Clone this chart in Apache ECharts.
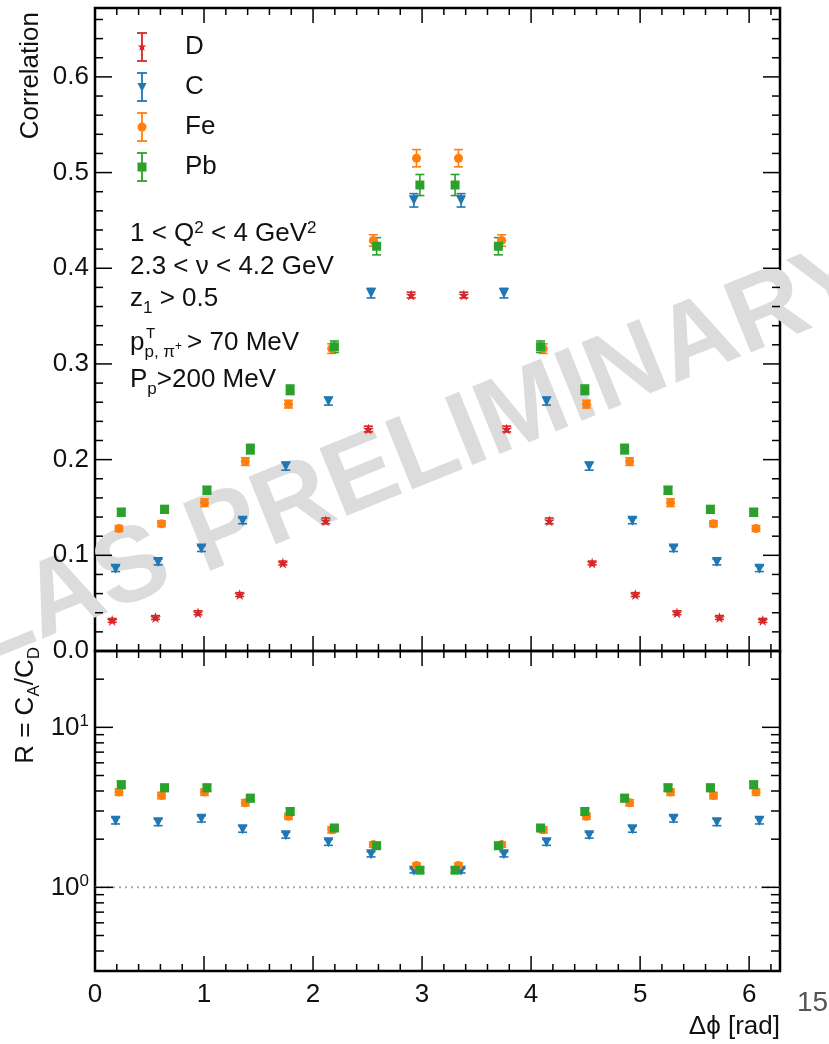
<!DOCTYPE html>
<html>
<head>
<meta charset="utf-8">
<script src="https://cdn.jsdelivr.net/npm/echarts@6/dist/echarts.min.js"></script>
<style>
html,body{margin:0;padding:0;background:#fff;}
#c{width:829px;height:1044px;}
</style>
</head>
<body>
<div id="c"></div>
<script>
// ---------------- data ----------------
const seriesNames = ['D', 'C', 'Fe', 'Pb'];
const phiD  = [0.158,0.555,0.945,1.327,1.723,2.116,2.507,2.900,3.383,3.776,4.167,4.560,4.956,5.338,5.728,6.125];
const phiC  = [0.189,0.579,0.976,1.354,1.750,2.141,2.532,2.925,3.358,3.751,4.142,4.533,4.929,5.307,5.704,6.094];
const phiFe = [0.220,0.610,1.004,1.379,1.775,2.171,2.553,2.949,3.334,3.730,4.112,4.508,4.904,5.279,5.673,6.063];
const phiPb = [0.241,0.638,1.027,1.425,1.790,2.196,2.583,2.980,3.303,3.700,4.087,4.493,4.858,5.256,5.645,6.042];

const corrD  = [0.032,0.035,0.040,0.059,0.092,0.136,0.232,0.372,0.372,0.232,0.136,0.092,0.059,0.040,0.035,0.032];
const corrC  = [0.086,0.093,0.107,0.136,0.193,0.261,0.374,0.471,0.471,0.374,0.261,0.193,0.136,0.107,0.093,0.086];
const corrFe = [0.128,0.133,0.155,0.198,0.258,0.316,0.429,0.515,0.515,0.429,0.316,0.258,0.198,0.155,0.133,0.128];
const corrPb = [0.145,0.148,0.168,0.211,0.273,0.318,0.423,0.487,0.487,0.423,0.318,0.273,0.211,0.168,0.148,0.145];

const errD  = [0.002,0.002,0.002,0.002,0.002,0.003,0.003,0.003,0.003,0.003,0.003,0.002,0.002,0.002,0.002,0.002];
const errC  = [0.003,0.003,0.003,0.003,0.004,0.004,0.005,0.007,0.007,0.005,0.004,0.004,0.003,0.003,0.003,0.003];
const errFe = [0.003,0.003,0.004,0.004,0.004,0.005,0.006,0.009,0.009,0.006,0.005,0.004,0.004,0.004,0.003,0.003];
const errPb = [0.004,0.004,0.004,0.005,0.005,0.006,0.009,0.011,0.011,0.009,0.006,0.005,0.005,0.004,0.004,0.004];

const ratioC  = [2.61,2.55,2.68,2.31,2.12,1.91,1.61,1.27,1.27,1.61,1.91,2.12,2.31,2.68,2.55,2.61];
const ratioFe = [3.94,3.75,3.94,3.38,2.78,2.29,1.85,1.37,1.37,1.85,2.29,2.78,3.38,3.94,3.75,3.94];
const ratioPb = [4.38,4.19,4.19,3.61,2.98,2.35,1.82,1.28,1.28,1.82,2.35,2.98,3.61,4.19,4.19,4.38];

const ratioErrC  = [0.12,0.12,0.12,0.10,0.09,0.08,0.06,0.04,0.04,0.06,0.08,0.09,0.10,0.12,0.12,0.12];
const ratioErrFe = [0.18,0.17,0.18,0.15,0.12,0.10,0.07,0.05,0.05,0.07,0.10,0.12,0.15,0.18,0.17,0.18];
const ratioErrPb = [0.22,0.21,0.21,0.18,0.14,0.11,0.08,0.05,0.05,0.08,0.11,0.14,0.18,0.21,0.21,0.22];

const referenceRatio = 1;

// ticks
const xMajorTicks = [0, 1, 2, 3, 4, 5, 6];
const xMinorTicks = [];
for (let i = 1; i <= 31; i++) { if (i % 5 !== 0) xMinorTicks.push(+(i * 0.2).toFixed(1)); }
const yTopMajorTicks = [0, 0.1, 0.2, 0.3, 0.4, 0.5, 0.6];
const yTopMinorTicks = [];
for (let i = 1; i <= 33; i++) { if (i % 5 !== 0) yTopMinorTicks.push(+(i * 0.02).toFixed(2)); }
const yBotMajorTicks = [1, 10];
const yBotMinorTicks = [0.4,0.5,0.6,0.7,0.8,0.9,2,3,4,5,6,7,8,9,20];

const annotationLines = [
  '1 < Q{sup|2} < 4 GeV{sup|2}',
  '2.3 < ν < 4.2 GeV',
  'z{sub|1} > 0.5',
  'p{sub|p, π}{ssup|+}{gap| }> 70 MeV',
  'P{sub|p}>200 MeV'
];

// ---------------- style ----------------
const FONT = "'Liberation Sans', Arial, Helvetica, sans-serif";
const colors = { D: '#d62728', C: '#1f77b4', Fe: '#ff7f0e', Pb: '#2ca02c' };
const STAR = 'path://M50,0 L61,35 L98,35 L68,57 L79,91 L50,70 L21,91 L32,57 L2,35 L39,35 Z';
const symbols = { D: STAR, C: 'triangle', Fe: 'circle', Pb: 'rect' };
const symSize = { D: 11, C: 10, Fe: 9, Pb: 9 };
const symRot = { D: 0, C: 180, Fe: 0, Pb: 0 };

const chart = echarts.init(document.getElementById('c'), null, { renderer: 'canvas' });

function errSeries(color, xs, ys, es, xi, yi) {
  return {
    type: 'custom', xAxisIndex: xi, yAxisIndex: yi, z: 3, silent: true,
    data: xs.map((x, i) => [x, ys[i], es[i]]),
    renderItem(params, api) {
      const x = api.value(0), y = api.value(1), e = api.value(2);
      const hi = api.coord([x, y + e]), lo = api.coord([x, y - e]);
      const w = 4.5, st = { stroke: color, lineWidth: 1.6 };
      return { type: 'group', children: [
        { type: 'line', shape: { x1: hi[0], y1: hi[1], x2: lo[0], y2: lo[1] }, style: st },
        { type: 'line', shape: { x1: hi[0] - w, y1: hi[1], x2: hi[0] + w, y2: hi[1] }, style: st },
        { type: 'line', shape: { x1: lo[0] - w, y1: lo[1], x2: lo[0] + w, y2: lo[1] }, style: st }
      ]};
    }
  };
}

function pointSeries(name, xs, ys, xi, yi) {
  return {
    name, type: 'scatter', xAxisIndex: xi, yAxisIndex: yi, z: 4, silent: true,
    symbol: symbols[name], symbolSize: symSize[name], symbolRotate: symRot[name],
    itemStyle: { color: colors[name], opacity: 1 },
    data: xs.map((x, i) => [x, ys[i]])
  };
}

function tickSeries(xi, yi, yMaj, yMin, yRef, lens) {
  return {
    type: 'custom', xAxisIndex: xi, yAxisIndex: yi, z: 20, silent: true,
    data: [[1, yRef]],
    renderItem(params, api) {
      const cs = params.coordSys;
      const L = cs.x, R = cs.x + cs.width, T = cs.y, B = cs.y + cs.height;
      const ch = [];
      const st = { stroke: '#000', lineWidth: 1.5 };
      const add = (x1, y1, x2, y2) => ch.push({ type: 'line', shape: { x1, y1, x2, y2 }, style: st });
      xMajorTicks.forEach(v => { const p = api.coord([v, yRef])[0]; add(p, B, p, B - lens.xMaj); add(p, T, p, T + lens.xMaj); });
      xMinorTicks.forEach(v => { const p = api.coord([v, yRef])[0]; add(p, B, p, B - lens.xMin); add(p, T, p, T + lens.xMin); });
      yMaj.forEach(v => { const p = api.coord([1, v])[1]; add(L, p, L + lens.yMaj, p); add(R, p, R - lens.yMaj, p); });
      yMin.forEach(v => { const p = api.coord([1, v])[1]; add(L, p, L + lens.yMin, p); add(R, p, R - lens.yMin, p); });
      return { type: 'group', children: ch };
    }
  };
}

const xs = { D: phiD, C: phiC, Fe: phiFe, Pb: phiPb };
const topVals = { D: corrD, C: corrC, Fe: corrFe, Pb: corrPb };
const topErrs = { D: errD, C: errC, Fe: errFe, Pb: errPb };
const botVals = { C: ratioC, Fe: ratioFe, Pb: ratioPb };
const botErrs = { C: ratioErrC, Fe: ratioErrFe, Pb: ratioErrPb };

const series = [];
seriesNames.forEach(n => {
  series.push(errSeries(colors[n], xs[n], topVals[n], topErrs[n], 0, 0));
  series.push(pointSeries(n, xs[n], topVals[n], 0, 0));
});
['C', 'Fe', 'Pb'].forEach(n => {
  series.push(errSeries(colors[n], xs[n], botVals[n], botErrs[n], 1, 1));
  series.push(pointSeries(n, xs[n], botVals[n], 1, 1));
});
series.push({
  type: 'line', xAxisIndex: 1, yAxisIndex: 1, z: 2, silent: true, symbol: 'none',
  lineStyle: { color: '#aaaaaa', width: 2, type: [2, 4] },
  data: [[0, referenceRatio], [2 * Math.PI, referenceRatio]]
});
series.push(tickSeries(0, 0, yTopMajorTicks, yTopMinorTicks, 0.1, { xMaj: 15, xMin: 7, yMaj: 17, yMin: 8 }));
series.push(tickSeries(1, 1, yBotMajorTicks, yBotMinorTicks, 1, { xMaj: 15, xMin: 7, yMaj: 18, yMin: 9 }));

// legend graphics
const legendRows = [47, 87, 127, 167];
const legendX = 142;
const graphics = [];
function starPoints(cx, cy, ro, ri) {
  const pts = [];
  for (let k = 0; k < 10; k++) {
    const a = -Math.PI / 2 + k * Math.PI / 5, r = k % 2 ? ri : ro;
    pts.push([cx + r * Math.cos(a), cy + r * Math.sin(a)]);
  }
  return pts;
}
seriesNames.forEach((n, i) => {
  const y = legendRows[i], c = colors[n];
  const st = { stroke: c, lineWidth: 1.8 };
  graphics.push({ type: 'line', z: 50, shape: { x1: legendX, y1: y - 14, x2: legendX, y2: y + 14 }, style: st });
  graphics.push({ type: 'line', z: 50, shape: { x1: legendX - 5, y1: y - 14, x2: legendX + 5, y2: y - 14 }, style: st });
  graphics.push({ type: 'line', z: 50, shape: { x1: legendX - 5, y1: y + 14, x2: legendX + 5, y2: y + 14 }, style: st });
  let m;
  if (n === 'D') m = { type: 'polygon', shape: { points: starPoints(legendX, y, 4.5, 2) }, style: { fill: c } };
  if (n === 'C') m = { type: 'polygon', shape: { points: [[legendX - 4.5, y - 4], [legendX + 4.5, y - 4], [legendX, y + 5]] }, style: { fill: c } };
  if (n === 'Fe') m = { type: 'circle', shape: { cx: legendX, cy: y, r: 4.5 }, style: { fill: c } };
  if (n === 'Pb') m = { type: 'rect', shape: { x: legendX - 4.5, y: y - 4.5, width: 9, height: 9 }, style: { fill: c } };
  m.z = 51;
  graphics.push(m);
  graphics.push({ type: 'text', z: 51, x: 185, y: y, style: { text: n, fontSize: 26, fontFamily: FONT, fill: '#111', align: 'left', verticalAlign: 'middle' } });
});

// annotation
const annotRich = {
  sup: { fontSize: 17, lineHeight: 17, padding: [0, 0, 12, 0], fontFamily: FONT, fill: '#111' },
  sub: { fontSize: 17, lineHeight: 17, padding: [18, 0, 0, 0], fontFamily: FONT, fill: '#111' },
  ssup: { fontSize: 12, lineHeight: 12, padding: [8, 0, 0, 0], fontFamily: FONT, fill: '#111' },
  gap: { fontSize: 18, lineHeight: 10 }
};
const annotY = [234, 267, 299, 343, 380];
annotationLines.forEach((t, i) => {
  graphics.push({ type: 'text', z: 51, x: 130, y: annotY[i], style: {
    text: t, rich: annotRich, fontSize: 26, lineHeight: 30, fontFamily: FONT, fill: '#111', align: 'left', verticalAlign: 'middle'
  }});
});
graphics.push({ type: 'text', z: 51, x: 146, y: 334, style: { text: 'T', fontSize: 15, fontFamily: FONT, fill: '#111', align: 'left', verticalAlign: 'middle' } });

// axis titles, page number
graphics.push({ type: 'text', z: 51, x: 31, y: 12, rotation: Math.PI / 2, style: {
  text: 'Correlation', fontSize: 26, fontFamily: FONT, fill: '#111', align: 'right', verticalAlign: 'middle' } });
graphics.push({ type: 'text', z: 51, x: 26, y: 647, rotation: Math.PI / 2, style: {
  text: 'R = C{sub|A}/C{sub|D}', fontSize: 26, lineHeight: 30, fontFamily: FONT, fill: '#111', align: 'right', verticalAlign: 'middle',
  rich: { sub: { fontSize: 17, lineHeight: 17, padding: [16, 0, 0, 0], fontFamily: FONT, fill: '#111' } } } });
graphics.push({ type: 'text', z: 51, x: 780, y: 1027, style: {
  text: 'Δϕ [rad]', fontSize: 26, fontFamily: FONT, fill: '#111', align: 'right', verticalAlign: 'middle' } });
graphics.push({ type: 'text', z: 51, x: 797, y: 1003, style: {
  text: '15', fontSize: 28, fontFamily: FONT, fill: '#555', align: 'left', verticalAlign: 'middle' } });

// watermark
graphics.push({ type: 'text', z: 0, zlevel: 0, x: 382, y: 470, rotation: 22 * Math.PI / 180, style: {
  text: 'CLAS PRELIMINARY', fontSize: 106, fontWeight: 'bold', fontFamily: FONT, fill: '#dcdcdc', align: 'center', verticalAlign: 'middle' } });

const axisLabelStyle = { color: '#111', fontSize: 26, fontFamily: FONT };

const option = {
  animation: false,
  backgroundColor: '#fff',
  grid: [
    { left: 95, right: 49, top: 8, height: 643, show: true, borderColor: '#000', borderWidth: 2.5, backgroundColor: 'transparent', containLabel: false },
    { left: 95, right: 49, top: 651, height: 320, show: true, borderColor: '#000', borderWidth: 2.5, backgroundColor: 'transparent', containLabel: false }
  ],
  xAxis: [
    { gridIndex: 0, type: 'value', min: 0, max: 2 * Math.PI, interval: 1,
      axisLine: { show: false }, axisTick: { show: false }, splitLine: { show: false }, axisLabel: { show: false } },
    { gridIndex: 1, type: 'value', min: 0, max: 2 * Math.PI, interval: 1,
      axisLine: { show: false }, axisTick: { show: false }, splitLine: { show: false },
      axisLabel: Object.assign({ margin: 11, showMaxLabel: false, formatter: v => (Math.abs(v - Math.round(v)) < 1e-9 ? String(Math.round(v)) : '') }, axisLabelStyle) }
  ],
  yAxis: [
    { gridIndex: 0, type: 'value', min: 0, max: 0.672, interval: 0.1,
      axisLine: { show: false }, axisTick: { show: false }, splitLine: { show: false },
      axisLabel: Object.assign({ margin: 6, showMaxLabel: false, formatter: v => (v <= 0.6001 ? v.toFixed(1) : '') }, axisLabelStyle) },
    { gridIndex: 1, type: 'log', logBase: 10, min: 0.3, max: 30,
      axisLine: { show: false }, axisTick: { show: false }, splitLine: { show: false },
      axisLabel: Object.assign({ margin: 6,
        formatter: v => (Math.abs(v - 1) < 1e-6 ? '10{sup|0}' : (Math.abs(v - 10) < 1e-5 ? '10{sup|1}' : '')),
        rich: { sup: { fontSize: 17, lineHeight: 17, padding: [0, 0, 12, 0], color: '#111', fontFamily: FONT } } }, axisLabelStyle) }
  ],
  graphic: { elements: graphics },
  series
};
chart.setOption(option);
</script>
</body>
</html>
